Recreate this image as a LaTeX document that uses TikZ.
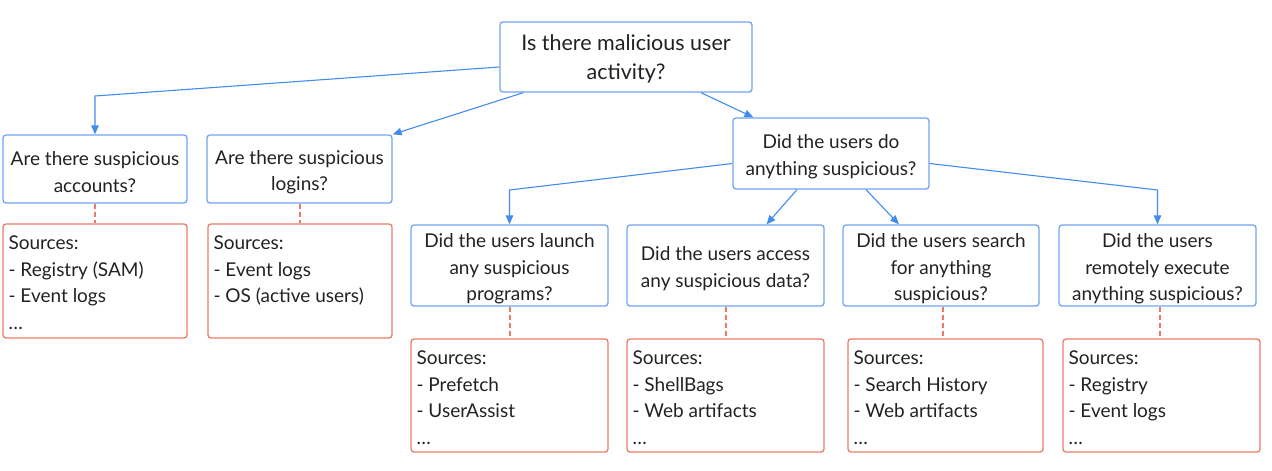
\documentclass[tikz,border=0pt]{standalone}
\usepackage{fontspec}
\setmainfont{Lato}
\usetikzlibrary{arrows.meta,calc}
\definecolor{qblue}{HTML}{72A5EE}
\definecolor{ablue}{HTML}{428DEB}
\definecolor{sred}{HTML}{EA7B66}
\definecolor{txt}{HTML}{222222}
\newcommand\qtop{\rule{0pt}{20.5pt}}
\begin{document}
\begin{tikzpicture}[x=1pt,y=-1pt,
  qbox/.style={draw=qblue, line width=1.3pt, rounded corners=3pt, fill=white, align=center, inner sep=0pt, text=txt, font=\fontsize{19}{26.5}\selectfont},
  sbox/.style={draw=sred, line width=1.3pt, rounded corners=3pt, inner sep=0pt},
  stext/.style={anchor=north west, align=left, inner sep=0pt, text=txt, font=\fontsize{19}{26.5}\selectfont},
  arr/.style={draw=ablue, line width=1.1pt, -{Triangle[length=9pt,width=7.5pt]}},
  dconn/.style={draw=sred, line width=1.3pt, dash pattern=on 5pt off 3pt}
]
\useasboundingbox (0,0) rectangle (1272,471);

% question nodes
\node[qbox, minimum width=252, minimum height=70, font=\fontsize{21.5}{29}\selectfont] (top) at (626,57) {\qtop Is there malicious user\\activity?};
\node[qbox, minimum width=184, minimum height=68] (A) at (95,169) {\qtop Are there suspicious\\accounts?};
\node[qbox, minimum width=185, minimum height=68] (B) at (299.5,169) {\qtop Are there suspicious\\logins?};
\node[qbox, minimum width=196, minimum height=71] (D) at (831,153.5) {\qtop Did the users do\\anything suspicious?};
\node[qbox, minimum width=197, minimum height=81] (L1) at (509.5,265.5) {\qtop Did the users launch\\any suspicious\\programs?};
\node[qbox, minimum width=197, minimum height=81] (L2) at (725.5,265.5) {\qtop Did the users access\\any suspicious data?};
\node[qbox, minimum width=196, minimum height=81] (L3) at (941,265.5) {\qtop Did the users search\\for anything\\suspicious?};
\node[qbox, minimum width=197, minimum height=81] (L4) at (1157.5,265.5) {\qtop Did the users\\remotely execute\\anything suspicious?};

% source boxes
\node[sbox, minimum width=184, minimum height=114] (sA) at (95,281) {};
\node[sbox, minimum width=184, minimum height=114] (sB) at (300,281) {};
\node[sbox, minimum width=197, minimum height=113] (sL1) at (509.5,395.5) {};
\node[sbox, minimum width=197, minimum height=113] (sL2) at (725.5,395.5) {};
\node[sbox, minimum width=195, minimum height=113] (sL3) at (945.5,395.5) {};
\node[sbox, minimum width=197, minimum height=113] (sL4) at (1161.5,395.5) {};

\node[stext] (tA) at ($(sA.north west)+(6,12.5)$) {Sources:\\- Registry (SAM)\\- Event logs\\\dots};
\node[stext] (tB) at ($(sB.north west)+(6,12.5)$) {Sources:\\- Event logs\\- OS (active users)};
\node[stext] (tL1) at ($(sL1.north west)+(6,12.5)$) {Sources:\\- Prefetch\\- UserAssist\\\dots};
\node[stext] (tL2) at ($(sL2.north west)+(6,12.5)$) {Sources:\\- ShellBags\\- Web artifacts\\\dots};
\node[stext] (tL3) at ($(sL3.north west)+(6,12.5)$) {Sources:\\- Search History\\- Web artifacts\\\dots};
\node[stext] (tL4) at ($(sL4.north west)+(6,12.5)$) {Sources:\\- Registry\\- Event logs\\\dots};

% dashed links
\draw[dconn] (A.south) -- (A.south |- sA.north);
\draw[dconn] ($(B.south)+(0.5,0)$) -- ($(B.south |- sB.north)+(0.5,0)$);
\draw[dconn] ($(L1.south)+(0.5,0)$) -- ($(L1.south |- sL1.north)+(0.5,0)$);
\draw[dconn] ($(L2.south)+(0.5,0)$) -- ($(L2.south |- sL2.north)+(0.5,0)$);
\draw[dconn] ($(L3.south)+(2,0)$) -- ($(L3.south |- sL3.north)+(2,0)$);
\draw[dconn] ($(L4.south)+(2.5,0)$) -- ($(L4.south |- sL4.north)+(2.5,0)$);

% arrows
\coordinate (bA) at (95,96);
\coordinate (bL1) at (509.5,190);
\coordinate (bL4) at (1157.5,190);
\draw[arr] ($(top.west)+(0,10)$) -- (bA) -- (A.north);
\draw[arr] ($(top.south west)+(24,0)$) -- (B.north east);
\draw[arr] ($(top.south)+(75,0)$) -- ($(D.north west)+(21,0)$);
\draw[arr] ($(D.west)+(0,10)$) -- (bL1) -- (L1.north);
\draw[arr] ($(D.south)+(-34,0)$) -- ($(L2.north)+(41,0)$);
\draw[arr] ($(D.south)+(35,0)$) -- ($(L3.north)+(-42,0)$);
\draw[arr] ($(D.east)+(0,10)$) -- (bL4) -- (L4.north);
\end{tikzpicture}
\end{document}
